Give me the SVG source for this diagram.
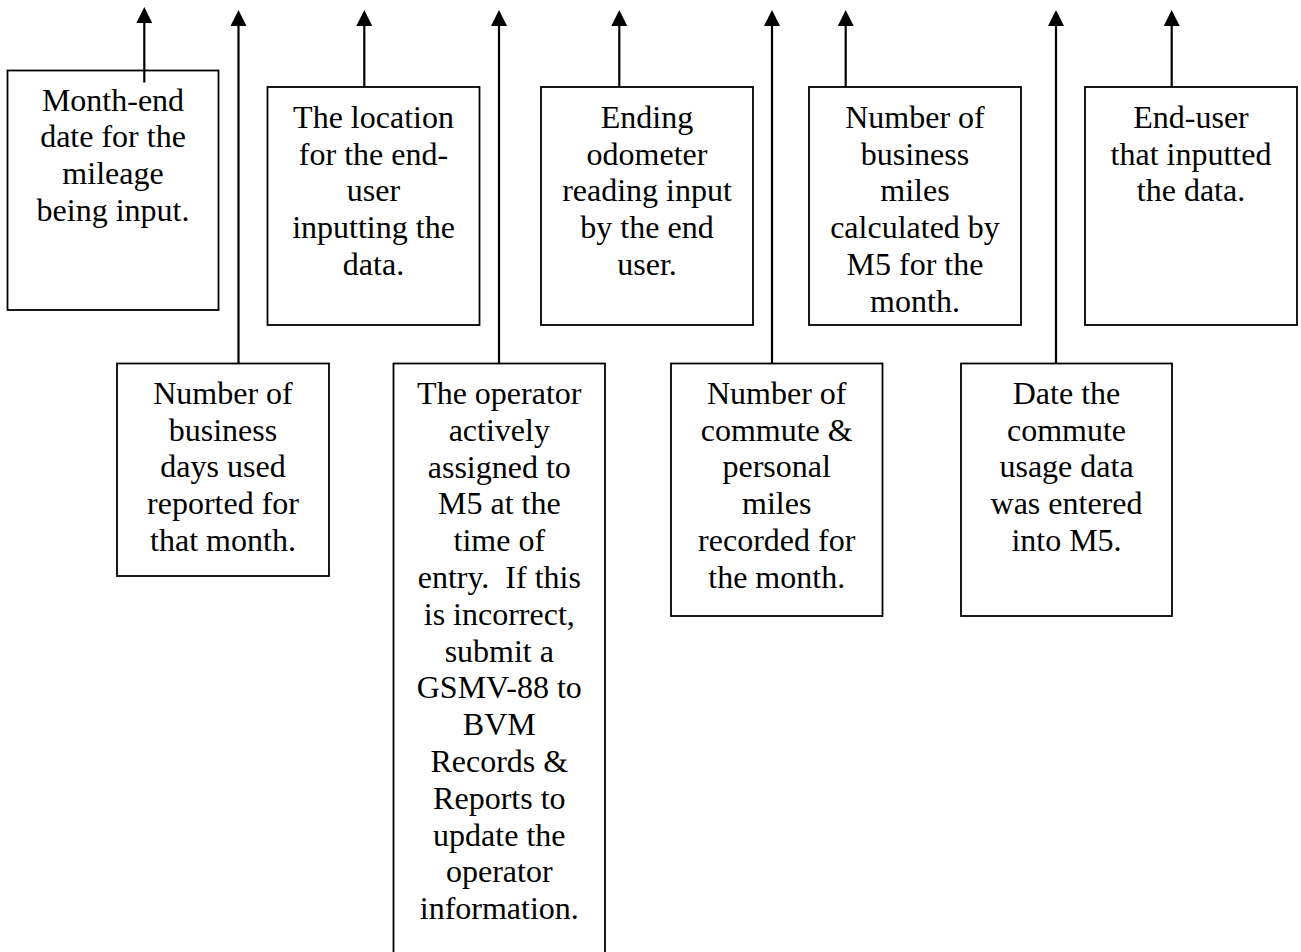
<svg xmlns="http://www.w3.org/2000/svg" width="1301" height="952" viewBox="0 0 1301 952">
<style>
.box{fill:#fff;stroke:#000;stroke-width:1.8}
.lbl{font-family:"Liberation Serif","Times New Roman",serif;font-size:32px;fill:#000;text-anchor:middle;white-space:pre}
.conn{stroke:#000;stroke-width:2.2;fill:none;marker-end:url(#ah)}
</style>
<defs>
<marker id="ah" viewBox="0 0 16 16" markerWidth="16" markerHeight="16" refX="0.5" refY="8" orient="auto" markerUnits="userSpaceOnUse">
<path d="M0,0 L16,8 L0,16 z" fill="#000"/>
</marker>
</defs>
<rect width="1301" height="952" fill="#fff"/>
<g id="n1">
<rect class="box" x="7.5" y="70.5" width="211" height="239.5"/>
<text class="lbl" x="113" y="110.5">Month-end</text>
<text class="lbl" x="113" y="147.2">date for the</text>
<text class="lbl" x="113" y="183.9">mileage</text>
<text class="lbl" x="113" y="220.6">being input.</text>
</g>
<g id="n2">
<rect class="box" x="117" y="363.5" width="212" height="212.5"/>
<text class="lbl" x="223" y="404">Number of</text>
<text class="lbl" x="223" y="440.7">business</text>
<text class="lbl" x="223" y="477.4">days used</text>
<text class="lbl" x="223" y="514.1">reported for</text>
<text class="lbl" x="223" y="550.8">that month.</text>
</g>
<g id="n3">
<rect class="box" x="267.5" y="87" width="212" height="238"/>
<text class="lbl" x="373.5" y="128">The location</text>
<text class="lbl" x="373.5" y="164.7">for the end-</text>
<text class="lbl" x="373.5" y="201.4">user</text>
<text class="lbl" x="373.5" y="238.1">inputting the</text>
<text class="lbl" x="373.5" y="274.8">data.</text>
</g>
<g id="n4">
<rect class="box" x="393.5" y="363.5" width="211.5" height="620"/>
<text class="lbl" x="499.3" y="404">The operator</text>
<text class="lbl" x="499.3" y="440.8">actively</text>
<text class="lbl" x="499.3" y="477.6">assigned to</text>
<text class="lbl" x="499.3" y="514.4">M5 at the</text>
<text class="lbl" x="499.3" y="551.2">time of</text>
<text class="lbl" x="499.3" y="588">entry.  If this</text>
<text class="lbl" x="499.3" y="624.8">is incorrect,</text>
<text class="lbl" x="499.3" y="661.6">submit a</text>
<text class="lbl" x="499.3" y="698.4">GSMV-88 to</text>
<text class="lbl" x="499.3" y="735.2">BVM</text>
<text class="lbl" x="499.3" y="772">Records &amp;</text>
<text class="lbl" x="499.3" y="808.8">Reports to</text>
<text class="lbl" x="499.3" y="845.6">update the</text>
<text class="lbl" x="499.3" y="882.4">operator</text>
<text class="lbl" x="499.3" y="919.2">information.</text>
</g>
<g id="n5">
<rect class="box" x="541" y="87" width="212" height="238"/>
<text class="lbl" x="647" y="128">Ending</text>
<text class="lbl" x="647" y="164.7">odometer</text>
<text class="lbl" x="647" y="201.4">reading input</text>
<text class="lbl" x="647" y="238.1">by the end</text>
<text class="lbl" x="647" y="274.8">user.</text>
</g>
<g id="n6">
<rect class="box" x="671" y="363.5" width="211.5" height="252.5"/>
<text class="lbl" x="776.7" y="404">Number of</text>
<text class="lbl" x="776.7" y="440.7">commute &amp;</text>
<text class="lbl" x="776.7" y="477.4">personal</text>
<text class="lbl" x="776.7" y="514.1">miles</text>
<text class="lbl" x="776.7" y="550.8">recorded for</text>
<text class="lbl" x="776.7" y="587.5">the month.</text>
</g>
<g id="n7">
<rect class="box" x="809" y="87" width="212" height="238"/>
<text class="lbl" x="915" y="128">Number of</text>
<text class="lbl" x="915" y="164.7">business</text>
<text class="lbl" x="915" y="201.4">miles</text>
<text class="lbl" x="915" y="238.1">calculated by</text>
<text class="lbl" x="915" y="274.8">M5 for the</text>
<text class="lbl" x="915" y="311.5">month.</text>
</g>
<g id="n8">
<rect class="box" x="961" y="363.5" width="211" height="252.5"/>
<text class="lbl" x="1066.5" y="404">Date the</text>
<text class="lbl" x="1066.5" y="440.7">commute</text>
<text class="lbl" x="1066.5" y="477.4">usage data</text>
<text class="lbl" x="1066.5" y="514.1">was entered</text>
<text class="lbl" x="1066.5" y="550.8">into M5.</text>
</g>
<g id="n9">
<rect class="box" x="1085" y="87" width="212" height="238"/>
<text class="lbl" x="1191" y="128">End-user</text>
<text class="lbl" x="1191" y="164.7">that inputted</text>
<text class="lbl" x="1191" y="201.4">the data.</text>
</g>
<g id="connectors">
<line class="conn" x1="144.3" y1="82.5" x2="144.3" y2="22.5"/>
<line class="conn" x1="238.5" y1="363.5" x2="238.5" y2="25.5"/>
<line class="conn" x1="364.3" y1="87" x2="364.3" y2="25.5"/>
<line class="conn" x1="499" y1="363.5" x2="499" y2="25.5"/>
<line class="conn" x1="619.3" y1="87" x2="619.3" y2="25.5"/>
<line class="conn" x1="772" y1="363.5" x2="772" y2="25.5"/>
<line class="conn" x1="845.7" y1="87" x2="845.7" y2="25.5"/>
<line class="conn" x1="1056" y1="363.5" x2="1056" y2="25.5"/>
<line class="conn" x1="1171.7" y1="87" x2="1171.7" y2="25.5"/>
</g>
</svg>
